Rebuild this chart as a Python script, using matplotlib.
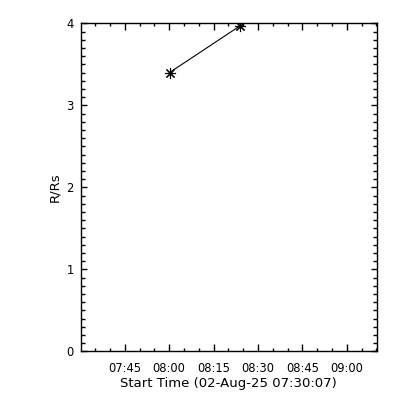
import matplotlib
matplotlib.use("Agg")
import matplotlib.pyplot as plt
import matplotlib.dates as mdates
from datetime import datetime

times = ["2025-08-02 08:00:10", "2025-08-02 08:24:00"]
heights = [3.40, 3.97]
start_label = "02-Aug-25 07:30:07"
x_start = "2025-08-02 07:30:07"
x_end = "2025-08-02 09:10:07"
y_range = [0, 4]

t = [datetime.strptime(s, "%Y-%m-%d %H:%M:%S") for s in times]
xs = datetime.strptime(x_start, "%Y-%m-%d %H:%M:%S")
xe = datetime.strptime(x_end, "%Y-%m-%d %H:%M:%S")

plt.rcParams['font.family'] = ['DejaVu Sans']
fig = plt.figure(figsize=(4, 4), dpi=100)
ax = fig.add_axes([80.7/400, 1-351.3/400, (376.7-80.7)/400, (351.3-23.3)/400])

ax.plot(t, heights, color='black', lw=0.8, marker=(8, 2, 0), ms=8, mew=0.8)

ax.set_xlim(xs, xe)
ax.set_ylim(*y_range)

ax.xaxis.set_major_locator(mdates.MinuteLocator(byminute=[0, 15, 30, 45]))
ax.xaxis.set_minor_locator(mdates.MinuteLocator(byminute=range(0, 60, 5)))
ax.xaxis.set_major_formatter(mdates.DateFormatter("%H:%M"))
ax.set_yticks([0, 1, 2, 3, 4])
ax.set_yticks([i/10 for i in range(41)], minor=True)

for sp in ax.spines.values():
    sp.set_linewidth(1.0)

ax.tick_params(which='both', direction='in', top=True, right=True, width=1.0, labelsize=8.3)
ax.tick_params(axis='x', which='major', length=5.2, pad=8)
ax.tick_params(axis='x', which='minor', length=2.3)
ax.tick_params(axis='y', which='major', length=4.5, pad=5)
ax.tick_params(axis='y', which='minor', length=2.6)

ax.set_xlabel("Start Time (" + start_label + ")", fontsize=9.5, labelpad=1)
ax.set_ylabel("R/Rs", fontsize=9.5, labelpad=4)

fig.savefig("out.png", dpi=100)
